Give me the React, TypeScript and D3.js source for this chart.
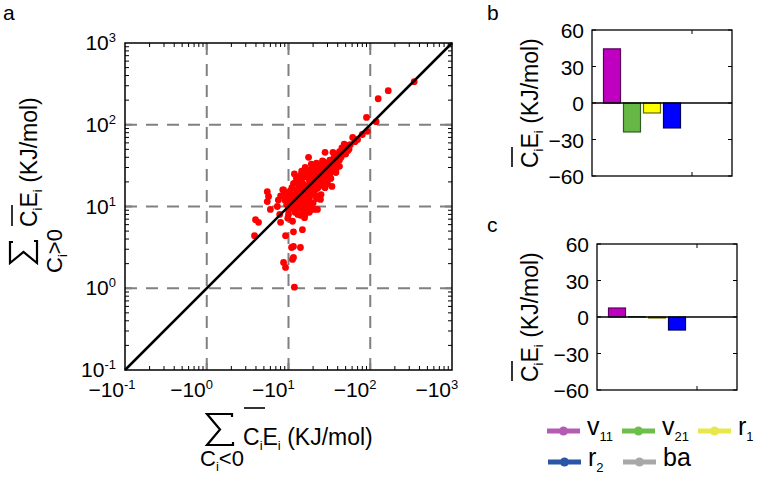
import * as d3 from "d3"

const FONT = "'Liberation Sans', Arial, Helvetica, sans-serif"

// panel a: sum of C_i E_i over C_i<0 (x, negative) against sum over C_i>0 (y), KJ/mol
const scatterPoints: [number, number][] = [
  [-345, 336], [-166, 261], [-125, 208], [-90, 123], [-118, 109], [-92, 83], [-80, 76],
  [-61, 70], [-57, 57], [-35, 46], [-28, 46], [-27, 35], [-38, 28], [-17, 23], [-14, 20],
  [-11.5, 19], [-8.7, 16], [-34, 17.6], [-24.6, 12.2], [-22.6, 9.2], [-17.6, 40], [-20.6, 9.2],
  [-3.95, 6.9], [-4.3, 6.4], [-3.84, 4.4], [-5.5, 15.2], [-5.7, 13.3], [-5.5, 11.5], [-6.0, 9.2],
  [-7.3, 10], [-8.0, 6.4], [-9.2, 4.4], [-8.5, 16], [-9.2, 14.8], [-11.2, 6.6], [-11.5, 4.9],
  [-14.8, 5.2], [-15.7, 7.3], [-11.5, 3.24], [-14, 3.15], [-10.9, 3.15], [-11.5, 2.38],
  [-8.7, 2.07], [-9.2, 1.8], [-11.8, 1.03], [-11.2, 2.25], [-7.8, 8],
  [-45, 52], [-50, 44], [-48, 58], [-53, 48], [-42, 47], [-40, 36], [-44, 40], [-65, 62], [-70, 66],
  [-12, 14], [-13, 12], [-14, 16.5], [-15, 13], [-16, 18], [-17, 15], [-18, 21], [-19, 17],
  [-20, 22], [-21, 19], [-22, 25], [-23, 20], [-24, 27], [-25, 22], [-26, 30], [-27, 25],
  [-28, 32], [-29, 26], [-30, 34], [-31, 28], [-32, 37], [-34, 30], [-36, 40], [-38, 34],
  [-40, 43], [-42, 37], [-45, 48], [-48, 44], [-52, 56], [-55, 50],
  [-10, 14], [-11, 17], [-12, 19.5], [-13, 21], [-14, 24], [-15, 22.5], [-16, 26], [-18, 28],
  [-20, 31], [-22, 34], [-12.5, 16], [-11, 13], [-10, 12], [-13.5, 18], [-17, 24], [-19, 26],
  [-21, 28.5], [-24, 32], [-26, 36], [-9.5, 13], [-10.5, 15.5], [-15, 19],
  [-14, 10], [-15, 11], [-16, 12], [-17, 13], [-18, 12.5], [-19, 14], [-20, 15.5], [-21, 14],
  [-22, 16.5], [-23, 17], [-24, 18], [-25, 19.5], [-26, 20], [-27, 21.5], [-28, 22], [-30, 24],
  [-32, 25], [-34, 27], [-36, 29], [-13, 9.5], [-16, 10], [-18, 10.5], [-20, 11], [-22, 12.5],
  [-25, 14], [-28, 17], [-30, 19], [-33, 22], [-38, 26], [-42, 31], [-12, 10.5], [-14, 12],
  [-15, 8.5], [-17, 9], [-19, 10], [-13, 11.5], [-11, 10], [-12, 8.5], [-14, 7.8], [-16, 8],
  [-18, 8.5], [-9.5, 10.5], [-10, 9], [-10.5, 11.5], [-11.5, 9.5], [-12.5, 11], [-9, 12],
  [-10, 8], [-13, 8], [-9.8, 7.2],
  [-11, 11.6], [-12.2, 12.5], [-13.1, 13.6], [-14.3, 14.1], [-15.2, 15.8], [-16.4, 16.2],
  [-17.3, 17.9], [-18.6, 18.2], [-19.5, 19.9], [-20.7, 20.3], [-21.6, 22.1], [-22.8, 22.4],
  [-23.7, 24.2], [-26.1, 25.6], [-28.3, 28.9], [-30.5, 29.7], [-32.4, 33.1], [-35.2, 34.6],
  [-38.3, 38.9], [-42.4, 41.8], [-46.2, 46.9], [-50.3, 49.5],
  [-12.5, 22], [-14.5, 27], [-16, 30], [-11.8, 25], [-19, 33], [-7.5, 12], [-8, 13.5],
]
const decades = [0.1, 1, 10, 100, 1000]
const decadeExp = ["-1", "0", "1", "2", "3"]
const gridDecades = [1, 10, 100]

// panels b and c: mean C_i E_i per term
const terms = ["v11", "v21", "r1", "r2", "ba"]
const termBase = ["v", "v", "r", "r", "ba"]
const termSub = ["11", "21", "1", "2", ""]
const valuesB = [44.5, -23.8, -8.2, -20.5, 0]
const valuesC = [7.4, 0.3, -0.8, -10.7, 0]
const barTicks = [-60, -30, 0, 30, 60]
const barFill = ["#c000c0", "#66b844", "#ffff00", "#0000ff", "#a0a0a0"]
const barEdge = ["#5a005a", "#2f5a22", "#6a6a00", "#00005a", "#505050"]
const legendColor = ["#b45cb4", "#6cc04a", "#e8e84a", "#2a56a8", "#a8a8a8"]

const minus = (s: string) => s.replace("-", "\u2212")

function SumLabel(props: {
  transform: string
  sub: string
  mainX: number
  subX: number
  subY: number
  barY: number
  sw: number
  sh: number
}) {
  const { transform, sub, mainX, subX, subY, barY, sw, sh } = props
  const size = 23
  const small = 13
  return (
    <g transform={transform} fontFamily={FONT} fill="#000">
      <path
        d={`M${sw - 1},${-sh + 3} L${sw - 1},${-sh} L0,${-sh} L${sw * 0.5},${-sh / 2} L0,0 L${sw},0 L${sw},-3`}
        fill="none"
        stroke="#000"
        strokeWidth={2.2}
      />
      <text x={mainX} y={0} fontSize={size}>
        C<tspan fontSize={small} dy={5}>i</tspan>
        <tspan dy={-5}>E</tspan>
        <tspan fontSize={small} dy={5}>i</tspan>
        <tspan dy={-5}> (KJ/mol)</tspan>
      </text>
      <line x1={mainX + 1} x2={mainX + 22} y1={barY} y2={barY} stroke="#000" strokeWidth={1.6} />
      <text x={subX} y={subY} fontSize={22}>
        C<tspan fontSize={small} dy={5}>i</tspan>
        <tspan dy={-5}>{sub}</tspan>
      </text>
    </g>
  )
}

function ScatterPanel() {
  const x = d3.scaleLog().domain([0.1, 1000]).range([125, 452])
  const y = d3.scaleLog().domain([0.1, 1000]).range([370, 43])
  const isDecade = (v: number) => Math.abs(Math.log10(v) - Math.round(Math.log10(v))) < 1e-9
  const minor = x.ticks().filter((v) => !isDecade(v))
  const [x0, x1] = x.range()
  const [y0, y1] = y.range()
  return (
    <g>
      {gridDecades.map((d) => (
        <g key={"g" + d} stroke="#808080" strokeWidth={2} strokeDasharray="12 9">
          <line x1={x(d)} x2={x(d)} y1={y1} y2={y0} />
          <line x1={x0} x2={x1} y1={y(d)} y2={y(d)} />
        </g>
      ))}
      {scatterPoints.map(([px, py], i) => (
        <circle key={i} cx={x(-px)} cy={y(py)} r={3.4} fill="#ff0000" />
      ))}
      <line x1={x(0.1)} y1={y(0.1)} x2={x(1000)} y2={y(1000)} stroke="#000" strokeWidth={2.5} />
      {minor.map((v) => (
        <g key={"m" + v} stroke="#000" strokeWidth={1}>
          <line x1={x(v)} x2={x(v)} y1={y0} y2={y0 - 4} />
          <line x1={x(v)} x2={x(v)} y1={y1} y2={y1 + 4} />
          <line x1={x0} x2={x0 + 4} y1={y(v)} y2={y(v)} />
          <line x1={x1} x2={x1 - 4} y1={y(v)} y2={y(v)} />
        </g>
      ))}
      {gridDecades.map((d) => (
        <g key={"M" + d} stroke="#808080" strokeWidth={2}>
          <line x1={x(d)} x2={x(d)} y1={y0} y2={y0 - 7} />
          <line x1={x(d)} x2={x(d)} y1={y1} y2={y1 + 7} />
          <line x1={x0} x2={x0 + 7} y1={y(d)} y2={y(d)} />
          <line x1={x1} x2={x1 - 7} y1={y(d)} y2={y(d)} />
        </g>
      ))}
      <rect x={x0} y={y1} width={x1 - x0} height={y0 - y1} fill="none" stroke="#000" strokeWidth={1.5} />
      {decades.map((d, i) => (
        <g key={"xl" + d} fontFamily={FONT}>
          <text x={x(d) - 1} y={397} textAnchor="end" fontSize={21}>{"\u221210"}</text>
          <text x={x(d) - 1} y={389} fontSize={13}>{decadeExp[i]}</text>
        </g>
      ))}
      {decades.map((d, i) => (
        <text key={"yl" + d} x={116} y={y(d) + 7} textAnchor="end" fontSize={21} fontFamily={FONT}>
          10<tspan fontSize={13} dy={-8}>{decadeExp[i]}</tspan>
        </text>
      ))}
      <SumLabel transform="translate(207,445)" sub="<0" mainX={36} subX={-7} subY={21} barY={-37} sw={26} sh={31} />
      <SumLabel transform="translate(37,263) rotate(-90)" sub=">0" mainX={36} subX={-10} subY={25} barY={-25} sw={22} sh={27} />
    </g>
  )
}

function BarPanel({ values, left, top }: { values: number[]; left: number; top: number }) {
  const x = d3.scaleLinear().domain([0, 7]).range([left, left + 140])
  const y = d3.scaleLinear().domain([-60, 60]).range([top + 146, top])
  const w = 0.85
  const [xa, xb] = x.range()
  const [ya, yb] = y.range()
  return (
    <g>
      {values.map((v, i) =>
        v === 0 ? null : (
          <rect
            key={terms[i]}
            x={x(i + 1 - w / 2)}
            width={x(i + 1 + w / 2) - x(i + 1 - w / 2)}
            y={y(Math.max(v, 0))}
            height={Math.abs(y(v) - y(0))}
            fill={barFill[i]}
            stroke={barEdge[i]}
            strokeWidth={1.2}
          />
        ),
      )}
      <line x1={xa} x2={xb} y1={y(0)} y2={y(0)} stroke="#000" strokeWidth={1.3} />
      {barTicks.map((t) => (
        <g key={t} stroke="#000" strokeWidth={1}>
          <line x1={xa} x2={xa + 4} y1={y(t)} y2={y(t)} />
          <line x1={xb} x2={xb - 4} y1={y(t)} y2={y(t)} />
        </g>
      ))}
      <line x1={x(5)} x2={x(5)} y1={ya} y2={ya - 4} stroke="#000" />
      <line x1={x(5)} x2={x(5)} y1={yb} y2={yb + 4} stroke="#000" />
      <rect x={xa} y={yb} width={xb - xa} height={ya - yb} fill="none" stroke="#000" strokeWidth={1.3} />
      {barTicks.map((t) => (
        <text key={"l" + t} x={xa - 8} y={y(t) + 8} textAnchor="end" fontSize={21} fontFamily={FONT}>
          {minus(String(t))}
        </text>
      ))}
      <g transform={`translate(538,${top + 138}) rotate(-90)`} fontFamily={FONT}>
        <text x={0} y={0} fontSize={23}>
          C<tspan fontSize={13} dy={5}>i</tspan>
          <tspan dy={-5}>E</tspan>
          <tspan fontSize={13} dy={5}>i</tspan>
          <tspan dy={-5}> (KJ/mol)</tspan>
        </text>
        <line x1={1} x2={21} y1={-26} y2={-26} stroke="#000" strokeWidth={1.6} />
      </g>
    </g>
  )
}

function Legend() {
  const pos = [
    [547, 431], [622, 431], [698, 431],
    [548, 462], [623, 462],
  ]
  return (
    <g fontFamily={FONT}>
      {terms.map((t, i) => {
        const [lx, ly] = pos[i]
        return (
          <g key={t}>
            <line x1={lx} x2={lx + 33} y1={ly} y2={ly} stroke={legendColor[i]} strokeWidth={5} />
            <circle cx={lx + 16.5} cy={ly} r={4.5} fill={legendColor[i]} />
            <text x={lx + 40} y={ly + 4} fontSize={25}>
              {termBase[i]}
              {termSub[i] && (
                <tspan fontSize={13} dy={6}>{termSub[i]}</tspan>
              )}
            </text>
          </g>
        )
      })}
    </g>
  )
}

export default function App() {
  return (
    <svg
      width={758}
      height={478}
      style={{ position: "absolute", left: 0, top: 0, background: "#fff" }}
    >
      <rect width={758} height={478} fill="#fff" />
      <g fontFamily={FONT} fontSize={21}>
        <text x={3} y={20}>a</text>
        <text x={487} y={20}>b</text>
        <text x={487} y={232}>c</text>
      </g>
      <ScatterPanel />
      <BarPanel values={valuesB} left={592} top={30} />
      <BarPanel values={valuesC} left={597} top={244} />
      <Legend />
    </svg>
  )
}
